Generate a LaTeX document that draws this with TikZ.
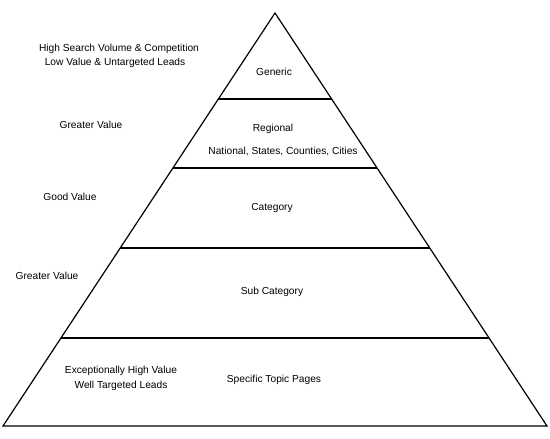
\documentclass[tikz,border=0pt]{standalone}
\usepackage{fontspec}
\setmainfont{Liberation Sans}
\usetikzlibrary{calc}
\begin{document}
\begin{tikzpicture}[x=1pt,y=-1pt,
  edge/.style={line width=1.2pt,line join=miter},
  lbl/.style={font=\fontsize{10.2}{12}\selectfont,inner sep=0pt,align=center}]
\useasboundingbox (0,0) rectangle (550,439);
\coordinate (A) at (275,13);
\coordinate (L) at (3,426);
\coordinate (R) at (547,426);
\draw[edge] (A) -- (L) -- (R) -- cycle;
% tier lines
\foreach \n/\y in {a/99,b/168,c/248,d/338}{
  \pgfmathsetmacro{\t}{(\y-13)/413}
  \coordinate (\n l) at ($(A)!\t!(L)$);
  \coordinate (\n r) at ($(A)!\t!(R)$);
  \draw[edge] (\n l) -- (\n r);
}
% pyramid labels
\node[lbl] (gen) at (274,72) {Generic};
\node[lbl] (reg) at (273,129) {Regional};
\node[lbl] (nat) at (283,151) {National, States, Counties, Cities};
\node[lbl] (cat) at (272,208) {Category};
\node[lbl] (sub) at (272,292) {Sub Category};
\node[lbl] (spec) at (274,380) {Specific Topic Pages};
% side labels
\node[lbl] (hs) at (119,49) {High Search Volume \& Competition};
\node[lbl] (lv) at (115,63) {Low Value \& Untargeted Leads};
\node[lbl] (gv1) at (91,125) {Greater Value};
\node[lbl] (gd) at (70,197) {Good Value};
\node[lbl] (gv2) at (47,276) {Greater Value};
\node[lbl] (ex) at (121,371) {Exceptionally High Value};
\node[lbl] (wt) at (121,386) {Well Targeted Leads};
\end{tikzpicture}
\end{document}
